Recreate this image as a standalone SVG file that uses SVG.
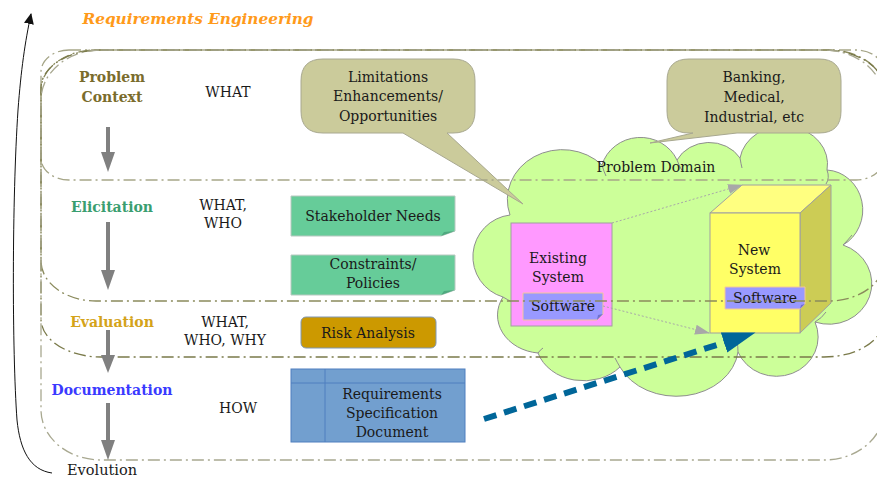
<svg xmlns="http://www.w3.org/2000/svg" width="877" height="480" viewBox="0 0 877 480">
<style>
text{font-family:"DejaVu Serif","Liberation Serif",serif;font-size:14px;fill:#1a1a1a;text-anchor:middle}
.lbl{font-weight:bold;font-size:14px}
.lane{fill:none;stroke-width:1.3;stroke-dasharray:12 4 2 4}
.garrow{stroke:#808080;stroke-width:4;fill:none}
.ghead{fill:#808080}
.bubble{fill:#cbcb9b;stroke:#a8a890;stroke-width:1}
.note{fill:#66cc99;stroke:#b8c8c0;stroke-width:1}
.fold{fill:#4fa97f}
.soft{fill:#9999ff;stroke:#f3c69a;stroke-width:1}
.dots{stroke:#a8a8a8;stroke-width:1;stroke-dasharray:2 2;fill:none}
</style>
<defs>
<marker id="evo" markerWidth="12" markerHeight="12" refX="10" refY="5" orient="auto" markerUnits="userSpaceOnUse" viewBox="0 0 12 10">
<path d="M0,0 L11,5 L0,10 Z" fill="#111"/>
</marker>
<marker id="gtri" markerWidth="16" markerHeight="12" refX="14" refY="5" orient="auto" markerUnits="userSpaceOnUse" viewBox="0 0 16 10">
<path d="M0,0 L15,5 L0,10 Z" fill="#a8a8a8"/>
</marker>
<marker id="btri" markerWidth="34" markerHeight="22" refX="2" refY="10.5" orient="auto" markerUnits="userSpaceOnUse" viewBox="0 0 34 21">
<path d="M0,0 L33,10.5 L0,21 Z" fill="#006699"/>
</marker>
</defs>

<!-- title -->
<text x="198" y="24" style="font-style:italic;font-weight:bold;font-size:15px;fill:#ff9a1a" textLength="231" lengthAdjust="spacingAndGlyphs">Requirements Engineering</text>

<!-- problem domain cloud -->
<g id="problem-domain">
<path d="M510 215 A55 50 0 0 1 602 165 A40 38 0 0 1 677 160 A36 32 0 0 1 740 158 A44 38 0 0 1 827 170 A38 40 0 0 1 843 245 A42 40 0 0 1 815 322 A36 34 0 0 1 738 352 A62 50 0 0 1 620 367 A48 40 0 0 1 538 353 A45 38 0 0 1 503 297 A42 42 0 0 1 510 215 Z" fill="#ccff99" stroke="#8e8e8e" stroke-width="1"/>
<path d="M602 165 Q604 172 606 176 M677 160 Q680 168 683 172 M740 158 Q741 164 742 168 M827 170 Q830 178 826 184 M843 245 Q848 240 852 235 M815 322 Q822 318 826 312 M738 352 Q738 346 737 342 M620 367 Q617 362 615 358 M538 353 Q540 350 543 348 M503 297 Q508 300 512 302" fill="none" stroke="#8e8e8e" stroke-width="1"/>
<text x="656" y="172">Problem Domain</text>
</g>

<!-- existing system -->
<g id="existing-system">
<rect x="511" y="223" width="101" height="103" fill="#ff99ff" stroke="#a0a0a0" stroke-width="1"/>
<text x="558" y="263">Existing</text>
<text x="558" y="282">System</text>
<path d="M523 293 H603 V314 L597 320 H523 Z" class="soft"/>
<path d="M597 320 L603 314 L598 315 Z" fill="#7070d0"/>
<text x="563" y="311">Software</text>
</g>

<!-- new system -->
<g id="new-system">
<path d="M710 213 L742 185 L831 185 L800 213 Z" fill="#ffff80" stroke="#a0a0a0" stroke-width="1"/>
<path d="M800 213 L831 185 L831 303 L800 333 Z" fill="#cccc55" stroke="#a0a0a0" stroke-width="1"/>
<rect x="710" y="213" width="90" height="120" fill="#ffff66" stroke="#a0a0a0" stroke-width="1"/>
<text x="754" y="255">New</text>
<text x="755" y="274">System</text>
<path d="M725 287 H805 V304 L800 309 H725 Z" class="soft"/>
<path d="M800 309 L805 304 L801 305 Z" fill="#7070d0"/>
<text x="765" y="303">Software</text>
</g>

<!-- callouts -->
<g id="callout-limitations">
<path d="M323 59 H453 Q475 59 475 81 V111 Q475 133 453 133 H447 L523 204 L403 133 H323 Q301 133 301 111 V81 Q301 59 323 59 Z" class="bubble"/>
<text x="388" y="82">Limitations</text>
<text x="388" y="101">Enhancements/</text>
<text x="388" y="121">Opportunities</text>
</g>
<g id="callout-domains">
<path d="M689 59 H819 Q841 59 841 81 V111 Q841 133 819 133 H737 L650 143 L693 133 H689 Q667 133 667 111 V81 Q667 59 689 59 Z" class="bubble"/>
<text x="754" y="82">Banking,</text>
<text x="754" y="102">Medical,</text>
<text x="754" y="122">Industrial, etc</text>
</g>

<!-- stage labels -->
<g id="stage-problem-context">
<text x="112" y="82" class="lbl" style="fill:#7a6c2c">Problem</text>
<text x="112" y="102" class="lbl" style="fill:#7a6c2c">Context</text>
<text x="228" y="97">WHAT</text>
</g>
<g id="stage-elicitation">
<text x="112" y="212" class="lbl" style="fill:#3a9e70">Elicitation</text>
<text x="223" y="210">WHAT,</text>
<text x="223" y="228">WHO</text>
</g>
<g id="stage-evaluation">
<text x="112" y="327" class="lbl" style="fill:#d4a31a">Evaluation</text>
<text x="225" y="327">WHAT,</text>
<text x="225" y="345">WHO, WHY</text>
</g>
<g id="stage-documentation">
<text x="112" y="395" class="lbl" style="fill:#3a3aff">Documentation</text>
<text x="238" y="413">HOW</text>
</g>
<text x="102" y="475" style="font-size:14.5px">Evolution</text>

<!-- artefacts -->
<g id="stakeholder-needs">
<path d="M291 196 H455 V231 L441 236 H291 Z" class="note"/>
<path d="M441 236 L455 231 L444 232 Z" class="fold"/>
<text x="373" y="221">Stakeholder Needs</text>
</g>
<g id="constraints-policies">
<path d="M291 255 H455 V290 L441 295 H291 Z" class="note"/>
<path d="M441 295 L455 290 L444 291 Z" class="fold"/>
<text x="373" y="269">Constraints/</text>
<text x="373" y="288">Policies</text>
</g>
<g id="risk-analysis">
<rect x="301" y="317" width="135" height="31" rx="5" fill="#cc9900" stroke="#7f97b5" stroke-width="1"/>
<text x="368" y="338">Risk Analysis</text>
</g>
<g id="requirements-document">
<rect x="291" y="369" width="174" height="73" fill="#729fcf" stroke="#4f7fbf" stroke-width="1"/>
<path d="M325 369 V442 M291 383 H465" stroke="#4f7fbf" stroke-width="1"/>
<text x="392" y="399">Requirements</text>
<text x="392" y="418">Specification</text>
<text x="392" y="437">Document</text>
</g>

<!-- lanes -->
<g id="lanes">
<rect x="41" y="50" width="843" height="130" rx="28" ry="22" class="lane" stroke="#a6a688"/>
<rect x="41" y="50" width="843" height="251" rx="55" ry="40" class="lane" stroke="#8a8a5c"/>
<rect x="41" y="50" width="843" height="307" rx="60" ry="38" class="lane" stroke="#7a7a4a"/>
<rect x="41" y="50" width="843" height="410" rx="60" ry="50" class="lane" stroke="#a8a890"/>
</g>

<!-- connectors -->
<g id="connectors">
<path d="M52 473 C30 470 20 450 17 420 C12 350 12 200 18 110 C21 70 25 42 31 14" fill="none" stroke="#111" stroke-width="1" marker-end="url(#evo)"/>
<path d="M108 127 V153" class="garrow"/><path d="M101 152 H115 L108 172 Z" class="ghead"/>
<path d="M108 222 V271" class="garrow"/><path d="M101 270 H115 L108 290 Z" class="ghead"/>
<path d="M108 330 V356" class="garrow"/><path d="M101 355 H115 L108 373 Z" class="ghead"/>
<path d="M108 403 V441" class="garrow"/><path d="M101 440 H115 L108 460 Z" class="ghead"/>
<path d="M612 223 L742 185" class="dots" marker-end="url(#gtri)"/>
<path d="M603 306 L709 333" class="dots" marker-end="url(#gtri)"/>
<path d="M484 419 L726 342" stroke="#006699" stroke-width="6" stroke-dasharray="13 8" fill="none" marker-end="url(#btri)"/>
</g>
</svg>
